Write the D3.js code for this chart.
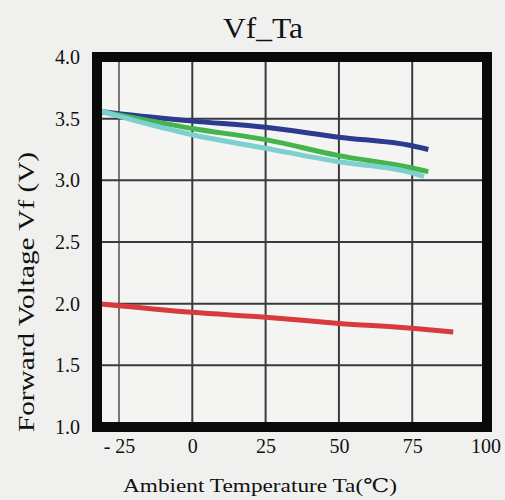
<!DOCTYPE html>
<html>
<head>
<meta charset="utf-8">
<script src="https://cdn.jsdelivr.net/npm/d3@7"></script>
<style>
  html, body { margin: 0; padding: 0; background: #f0f1ef; }
  svg { display: block; }
  text { font-family: "Liberation Serif", "DejaVu Serif", serif; fill: #111; }
</style>
</head>
<body>
<div id="chart"></div>
<script>
// ---- data ----
const xTicks = [-25, 0, 25, 50, 75, 100];
const yTicks = [1.0, 1.5, 2.0, 2.5, 3.0, 3.5, 4.0];

const blueT  = [-32, -25, 0, 25, 50, 75, 80.5];
const blueV  = [3.56, 3.54, 3.48, 3.43, 3.35, 3.28, 3.25];
const greenT = [-32, -25, 0, 25, 50, 75, 80.5];
const greenV = [3.56, 3.53, 3.42, 3.33, 3.20, 3.10, 3.07];
const cyanT  = [-32, -25, 0, 25, 50, 75, 79];
const cyanV  = [3.57, 3.52, 3.37, 3.26, 3.15, 3.06, 3.03];
const redT   = [-32, 0, 25, 50, 75, 89];
const redV   = [2.00, 1.93, 1.89, 1.84, 1.80, 1.77];

const seriesNames  = ["blue", "green", "cyan", "red"];
const seriesColors = ["#2b3b8f", "#44b54c", "#7dcfd0", "#d93a3c"];

const W = 505, H = 500;
const svg = d3.select("#chart").append("svg").attr("width", W).attr("height", H);

const x = d3.scaleLinear().domain([-32.5, 100.5]).range([97, 487]);
const y = d3.scaleLinear().domain([1, 4]).range([427, 57]);

// plot background
svg.append("rect").attr("x", x(-32.5)).attr("y", y(4))
  .attr("width", x(100.5) - x(-32.5)).attr("height", y(1) - y(4))
  .attr("fill", "#f4f5f3");

// grid
const grid = svg.append("g");
grid.selectAll("line.v").data(xTicks.filter(t => t < 100)).enter().append("line")
  .attr("x1", d => x(d)).attr("x2", d => x(d))
  .attr("y1", y(4)).attr("y2", y(1))
  .attr("stroke", d => d === -25 ? "#777" : "#3a3a3a").attr("stroke-width", 2);
grid.selectAll("line.h").data(yTicks.filter(t => t > 1 && t < 4)).enter().append("line")
  .attr("x1", x(-32.5)).attr("x2", x(100.5))
  .attr("y1", d => y(d)).attr("y2", d => y(d))
  .attr("stroke", "#3a3a3a").attr("stroke-width", 2);

// series
const allT = [blueT, greenT, cyanT, redT];
const allV = [blueV, greenV, cyanV, redV];
const line = d3.line().x(d => x(d[0])).y(d => y(d[1])).curve(d3.curveMonotoneX);
seriesNames.forEach((n, i) => {
  const pts = allT[i].map((t, j) => [t, allV[i][j]]);
  svg.append("path").datum(pts)
    .attr("d", line)
    .attr("fill", "none")
    .attr("stroke", seriesColors[i])
    .attr("stroke-width", 5)
    .attr("stroke-linecap", "butt");
});

// frame
svg.append("rect").attr("x", x(-32.5)).attr("y", y(4))
  .attr("width", x(100.5) - x(-32.5)).attr("height", y(1) - y(4))
  .attr("fill", "none").attr("stroke", "#0a0a0a").attr("stroke-width", 10);

// axes (labels only)
const xAxis = svg.append("g").attr("transform", `translate(0, ${y(1) + 10})`)
  .call(d3.axisBottom(x).tickValues(xTicks).tickSize(0).tickPadding(2)
    .tickFormat(d => d < 0 ? "- " + Math.abs(d) : String(d)));
xAxis.select(".domain").remove();
xAxis.selectAll("text").style("font-family", "'Liberation Serif', serif")
  .style("font-size", "20px").attr("fill", "#111");

const yAxis = svg.append("g").attr("transform", `translate(${x(-32.5)}, 0)`)
  .call(d3.axisLeft(y).tickValues(yTicks).tickSize(0).tickPadding(17)
    .tickFormat(d3.format(".1f")));
yAxis.select(".domain").remove();
yAxis.selectAll("text").style("font-family", "'Liberation Serif', serif")
  .style("font-size", "20px").attr("fill", "#111");

// titles
svg.append("text").attr("x", 263).attr("y", 38).attr("text-anchor", "middle")
  .style("font-size", "29px")
  .attr("textLength", 80).attr("lengthAdjust", "spacingAndGlyphs")
  .text("Vf_Ta");

svg.append("text").attr("x", 260).attr("y", 492).attr("text-anchor", "middle")
  .style("font-size", "19px")
  .attr("textLength", 274).attr("lengthAdjust", "spacingAndGlyphs")
  .text("Ambient Temperature Ta(\u2103)");

svg.append("text").attr("transform", "translate(34, 292) rotate(-90)")
  .attr("text-anchor", "middle").style("font-size", "23px")
  .attr("textLength", 280).attr("lengthAdjust", "spacingAndGlyphs")
  .text("Forward Voltage Vf (V)");
</script>
</body>
</html>
